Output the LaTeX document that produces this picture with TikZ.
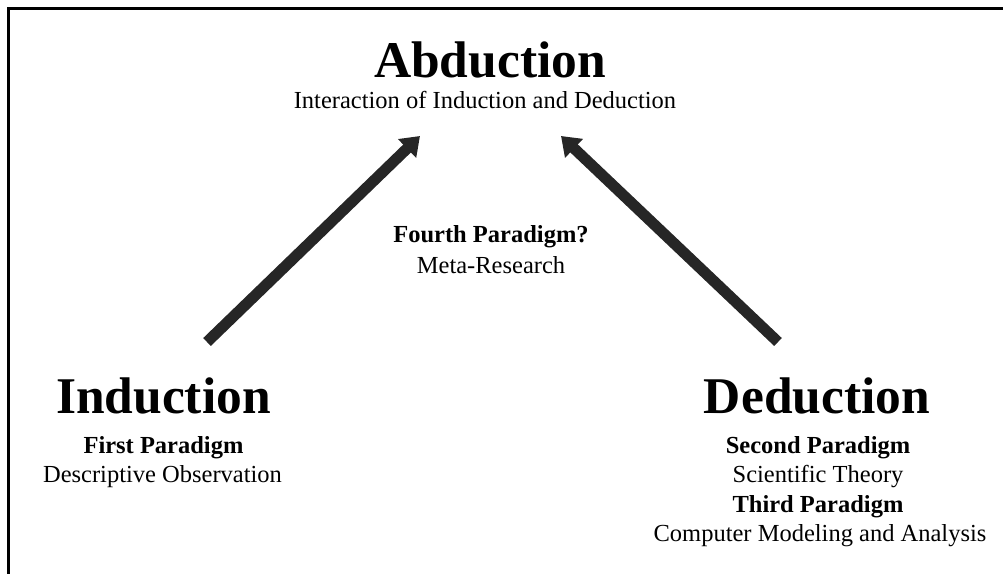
\documentclass[tikz,border=0pt]{standalone}
\usepackage{fontspec}
\setmainfont{Liberation Serif}
\usetikzlibrary{arrows.meta}
\definecolor{arrowgray}{HTML}{262626}
\tikzset{
  big/.style={anchor=base, inner sep=0pt, font=\bfseries\fontsize{51.5}{60}\selectfont},
  subb/.style={anchor=base, inner sep=0pt, font=\bfseries\fontsize{24.5}{29}\selectfont},
  subr/.style={anchor=base, inner sep=0pt, font=\fontsize{24.5}{29}\selectfont},
  fatarrow/.style={draw=arrowgray, line width=11pt, -{Triangle[length=18pt,width=25pt]}},
  frame/.style={draw=black, line width=2.8pt}
}
\begin{document}
\begin{tikzpicture}[x=1pt,y=-1pt]
\useasboundingbox (0,0) rectangle (1003,573);
\draw[frame] (8.5,575) -- (8.5,8.5) -- (1005,8.5);

\node[big] (abd) at (490,77) {Abduction};
\node[subr] (abdsub) at (485,108) {Interaction of Induction and Deduction};

\node[subb] (fourth) at (491,242) {Fourth Paradigm?};
\node[subr] (meta) at (491,273) {Meta-Research};

\node[big] (ind) at (163.5,413) {Induction};
\node[subb] (first) at (163.5,453) {First Paradigm};
\node[subr] (desc) at (162.5,482) {Descriptive Observation};

\node[big] (ded) at (817,413) {Deduction};
\node[subb] (second) at (818,453) {Second Paradigm};
\node[subr] (sci) at (818,482) {Scientific Theory};
\node[subb] (third) at (818,512) {Third Paradigm};
\node[subr] (comp) at (820,541) {Computer Modeling and Analysis};

\coordinate (ltail) at (207,342);
\coordinate (ltip) at (420,136);
\coordinate (rtail) at (778,342);
\coordinate (rtip) at (561,136);
\draw[fatarrow] (ltail) -- (ltip);
\draw[fatarrow] (rtail) -- (rtip);
\end{tikzpicture}
\end{document}
